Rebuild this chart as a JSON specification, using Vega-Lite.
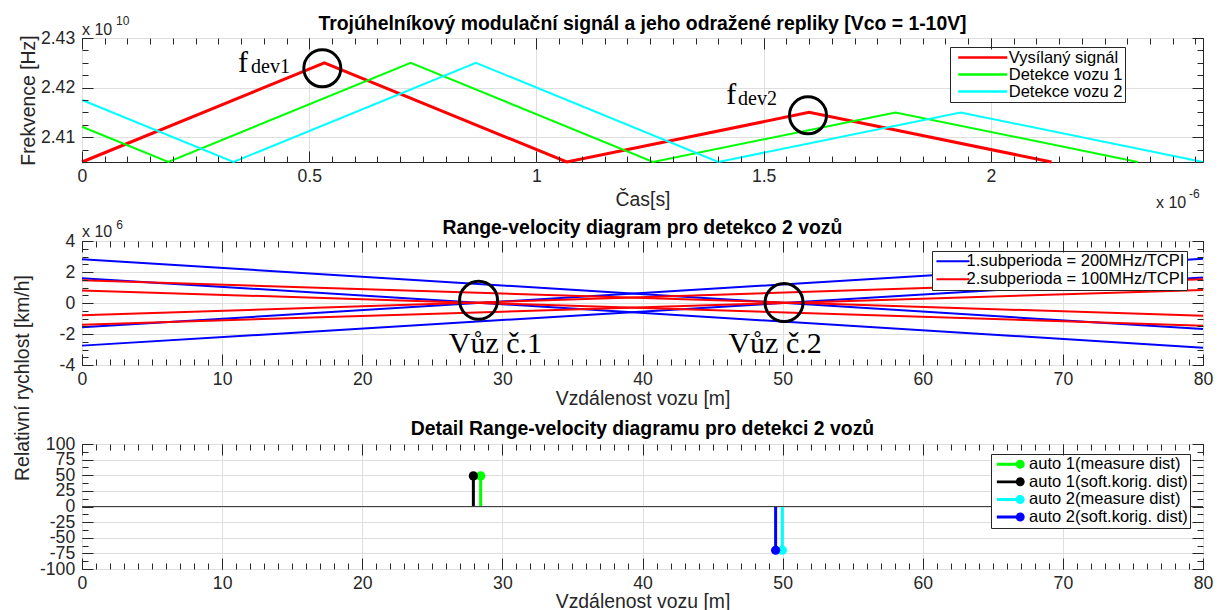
{
"$schema":"https://vega.github.io/schema/vega-lite/v6.json",
"background":"white",
"padding":{"left":11,"top":13,"right":5,"bottom":0},
"autosize":{"type":"pad"},
"spacing":79,
"bounds":"flush",
"config":{
 "view":{"stroke":"#262626","strokeWidth":1},
 "axis":{"labelFont":"Liberation Sans","labelFontSize":17.6,"labelColor":"#262626","titleFont":"Liberation Sans","titleFontSize":19.4,"titleFontWeight":"normal","titleColor":"#262626","domain":false,"tickColor":"#262626","tickWidth":1,"gridColor":"#dfdfdf","gridWidth":1,"labelOverlap":false,"labelFlush":false,"labelBound":false},
 "legend":{"labelFont":"Liberation Sans","labelFontSize":16.5,"labelColor":"#000000","strokeColor":"#262626","fillColor":"#ffffff","padding":2,"rowPadding":0,"labelLimit":500},
 "title":{"font":"Liberation Sans","fontSize":19.4,"fontWeight":"bold","color":"#000000","baseline":"alphabetic","frame":"group","anchor":"middle"}
},
"datasets":{
 "sig":[
  {"series":"Vysílaný signál","t":0,"f":2.405},
  {"series":"Vysílaný signál","t":0.5333,"f":2.425},
  {"series":"Vysílaný signál","t":1.0667,"f":2.405},
  {"series":"Vysílaný signál","t":1.6,"f":2.415},
  {"series":"Vysílaný signál","t":2.1333,"f":2.405},
  {"series":"Detekce vozu 1","t":0,"f":2.4121},
  {"series":"Detekce vozu 1","t":0.19,"f":2.405},
  {"series":"Detekce vozu 1","t":0.7233,"f":2.425},
  {"series":"Detekce vozu 1","t":1.2567,"f":2.405},
  {"series":"Detekce vozu 1","t":1.79,"f":2.415},
  {"series":"Detekce vozu 1","t":2.3233,"f":2.405},
  {"series":"Detekce vozu 2","t":0,"f":2.4175},
  {"series":"Detekce vozu 2","t":0.3333,"f":2.405},
  {"series":"Detekce vozu 2","t":0.8667,"f":2.425},
  {"series":"Detekce vozu 2","t":1.4,"f":2.405},
  {"series":"Detekce vozu 2","t":1.9333,"f":2.415},
  {"series":"Detekce vozu 2","t":2.4667,"f":2.405}
 ],
 "circ1":[{"t":0.5288,"f":2.42389},{"t":1.5975,"f":2.41441}],
 "fmain":[{"t":0.3433,"f":2.42315,"txt":"f"},{"t":1.4176,"f":2.41676,"txt":"f"}],
 "fsub":[{"t":0.3719,"f":2.42294,"txt":"dev1"},{"t":1.4435,"f":2.41643,"txt":"dev2"}],
 "exp1base":[{"t":0,"f":2.4306,"txt":"x 10"},{"t":2.3633,"f":2.39573,"txt":"x 10"}],
 "exp1sup":[{"t":0.0748,"f":2.4326,"txt":"10"},{"t":2.4359,"f":2.39774,"txt":"-6"}],
 "rv":[
  {"sub":"1.subperioda = 200MHz/TCPI","line":"b1","d":0,"v":2.82},
  {"sub":"1.subperioda = 200MHz/TCPI","line":"b1","d":80,"v":-1.68},
  {"sub":"1.subperioda = 200MHz/TCPI","line":"b2","d":0,"v":-2.75},
  {"sub":"1.subperioda = 200MHz/TCPI","line":"b2","d":80,"v":1.65},
  {"sub":"1.subperioda = 200MHz/TCPI","line":"b3","d":0,"v":1.6},
  {"sub":"1.subperioda = 200MHz/TCPI","line":"b3","d":80,"v":-2.88},
  {"sub":"1.subperioda = 200MHz/TCPI","line":"b4","d":0,"v":-1.57},
  {"sub":"1.subperioda = 200MHz/TCPI","line":"b4","d":80,"v":2.86},
  {"sub":"2.subperioda = 100MHz/TCPI","line":"r1","d":0,"v":1.46},
  {"sub":"2.subperioda = 100MHz/TCPI","line":"r1","d":80,"v":-0.82},
  {"sub":"2.subperioda = 100MHz/TCPI","line":"r2","d":0,"v":-1.4},
  {"sub":"2.subperioda = 100MHz/TCPI","line":"r2","d":80,"v":0.84},
  {"sub":"2.subperioda = 100MHz/TCPI","line":"r3","d":0,"v":0.81},
  {"sub":"2.subperioda = 100MHz/TCPI","line":"r3","d":80,"v":-1.46},
  {"sub":"2.subperioda = 100MHz/TCPI","line":"r4","d":0,"v":-0.79},
  {"sub":"2.subperioda = 100MHz/TCPI","line":"r4","d":80,"v":1.54}
 ],
 "circ2":[{"d":28.3,"v":0.17},{"d":50.1,"v":0.03}],
 "cars":[{"d":29.5,"v":-3.226,"txt":"Vůz č.1"},{"d":49.46,"v":-3.226,"txt":"Vůz č.2"}],
 "exp2base":[{"d":0,"v":4.258,"txt":"x 10"}],
 "exp2sup":[{"d":2.45,"v":4.79,"txt":"6"}],
 "stems":[
  {"car":"auto 1(measure dist)","d":28.45,"v":49},
  {"car":"auto 1(soft.korig. dist)","d":27.93,"v":49},
  {"car":"auto 2(measure dist)","d":49.98,"v":-70},
  {"car":"auto 2(soft.korig. dist)","d":49.5,"v":-70}
 ]
},
"resolve":{"scale":{"color":"independent","x":"independent","y":"independent"},"legend":{"color":"independent"}},
"vconcat":[
{
 "width":1121,"height":124,
 "title":{"text":"Trojúhelníkový modulační signál a jeho odražené repliky [Vco = 1-10V]","offset":-19},
 "resolve":{"axis":{"x":"independent","y":"independent"}},
 "layer":[
  {"data":{"name":"sig"},"mark":{"type":"line"},
   "encoding":{
    "x":{"field":"t","type":"quantitative","scale":{"domain":[0,2.4667],"nice":false,"zero":false},
     "axis":{"orient":"bottom","values":[0,0.5,1,1.5,2],"labelExpr":"''+datum.value","ticks":true,"tickSize":0,"labelPadding":5.4,"grid":true,"title":"Čas[s]","titlePadding":5,"zindex":0}},
    "y":{"field":"f","type":"quantitative","scale":{"domain":[2.405,2.43],"nice":false,"zero":false},
     "axis":{"orient":"left","values":[2.41,2.42,2.43],"labelExpr":"''+datum.value","ticks":true,"tickSize":0,"labelPadding":7.3,"grid":true,"title":"Frekvence [Hz]","titleX":-54,"titleY":62,"titleAlign":"center","titleBaseline":"middle","titleAngle":270,"zindex":0}},
    "color":{"field":"series","type":"nominal","scale":{"domain":["Vysílaný signál","Detekce vozu 1","Detekce vozu 2"],"range":["#ff0000","#00ff00","#00ffff"]},
     "legend":{"title":null,"orient":"none","legendX":868,"legendY":9,"symbolType":"M-3.5,0L3.5,0","symbolSize":196,"symbolStrokeWidth":2.5,"symbolOffset":22.25,"labelOffset":17.5}},
    "strokeWidth":{"condition":{"test":"datum.series === 'Vysílaný signál'","value":3},"value":2}
   }},
  {"data":{"name":"sig"},"mark":{"type":"point","opacity":0},
   "encoding":{
    "x":{"field":"t","type":"quantitative","scale":{"domain":[0,2.4667],"nice":false,"zero":false},
     "axis":{"orient":"bottom","values":[0,0.05,0.1,0.15,0.2,0.25,0.3,0.35,0.4,0.45,0.5,0.55,0.6,0.65,0.7,0.75,0.8,0.85,0.9,0.95,1,1.05,1.1,1.15,1.2,1.25,1.3,1.35,1.4,1.45,1.5,1.55,1.6,1.65,1.7,1.75,1.8,1.85,1.9,1.95,2,2.05,2.1,2.15,2.2,2.25,2.3,2.35,2.4,2.45],"labels":false,"grid":false,"ticks":true,"tickSize":6,"offset":-6,"title":null,"zindex":1}},
    "y":{"field":"f","type":"quantitative","scale":{"domain":[2.405,2.43],"nice":false,"zero":false},
     "axis":{"orient":"left","values":[2.405,2.4075,2.41,2.4125,2.415,2.4175,2.42,2.4225,2.425,2.4275,2.43],"labels":false,"grid":false,"ticks":true,"tickSize":6,"offset":-6,"title":null,"zindex":1}}
   }},
  {"data":{"name":"sig"},"mark":{"type":"point","opacity":0},
   "encoding":{
    "x":{"field":"t","type":"quantitative","scale":{"domain":[0,2.4667],"nice":false,"zero":false},
     "axis":{"orient":"top","values":[0,0.05,0.1,0.15,0.2,0.25,0.3,0.35,0.4,0.45,0.5,0.55,0.6,0.65,0.7,0.75,0.8,0.85,0.9,0.95,1,1.05,1.1,1.15,1.2,1.25,1.3,1.35,1.4,1.45,1.5,1.55,1.6,1.65,1.7,1.75,1.8,1.85,1.9,1.95,2,2.05,2.1,2.15,2.2,2.25,2.3,2.35,2.4,2.45],"labels":false,"grid":false,"ticks":true,"tickSize":6,"offset":-6,"title":null,"zindex":1}},
    "y":{"field":"f","type":"quantitative","scale":{"domain":[2.405,2.43],"nice":false,"zero":false},
     "axis":{"orient":"right","values":[2.405,2.4075,2.41,2.4125,2.415,2.4175,2.42,2.4225,2.425,2.4275,2.43],"labels":false,"grid":false,"ticks":true,"tickSize":6,"offset":-6,"title":null,"zindex":1}}
   }},
  {"data":{"name":"sig"},"mark":{"type":"point","opacity":0},
   "encoding":{
    "x":{"field":"t","type":"quantitative","scale":{"domain":[0,2.4667],"nice":false,"zero":false},
     "axis":{"orient":"bottom","values":[0,0.5,1,1.5,2],"labels":false,"grid":false,"ticks":true,"tickSize":11,"offset":-11,"title":null,"zindex":1}},
    "y":{"field":"f","type":"quantitative","scale":{"domain":[2.405,2.43],"nice":false,"zero":false},
     "axis":{"orient":"left","values":[2.41,2.42,2.43],"labels":false,"grid":false,"ticks":true,"tickSize":11,"offset":-11,"title":null,"zindex":1}}
   }},
  {"data":{"name":"sig"},"mark":{"type":"point","opacity":0},
   "encoding":{
    "x":{"field":"t","type":"quantitative","scale":{"domain":[0,2.4667],"nice":false,"zero":false},
     "axis":{"orient":"top","values":[0,0.5,1,1.5,2],"labels":false,"grid":false,"ticks":true,"tickSize":11,"offset":-11,"title":null,"zindex":1}},
    "y":{"field":"f","type":"quantitative","scale":{"domain":[2.405,2.43],"nice":false,"zero":false},
     "axis":{"orient":"right","values":[2.41,2.42,2.43],"labels":false,"grid":false,"ticks":true,"tickSize":11,"offset":-11,"title":null,"zindex":1}}
   }},
  {"data":{"name":"circ1"},"mark":{"type":"point","shape":"circle","filled":false,"size":1369,"strokeWidth":3,"color":"#000000","opacity":1},
   "encoding":{
    "x":{"field":"t","type":"quantitative","scale":{"domain":[0,2.4667],"nice":false,"zero":false},"axis":null},
    "y":{"field":"f","type":"quantitative","scale":{"domain":[2.405,2.43],"nice":false,"zero":false},"axis":null}
   }},
  {"data":{"name":"fmain"},"mark":{"type":"text","font":"Liberation Serif","fontSize":30,"align":"left","baseline":"alphabetic","color":"#000000"},
   "encoding":{
    "x":{"field":"t","type":"quantitative","scale":{"domain":[0,2.4667],"nice":false,"zero":false},"axis":null},
    "y":{"field":"f","type":"quantitative","scale":{"domain":[2.405,2.43],"nice":false,"zero":false},"axis":null},
    "text":{"field":"txt","type":"nominal"}
   }},
  {"data":{"name":"fsub"},"mark":{"type":"text","font":"Liberation Serif","fontSize":20,"align":"left","baseline":"alphabetic","color":"#000000"},
   "encoding":{
    "x":{"field":"t","type":"quantitative","scale":{"domain":[0,2.4667],"nice":false,"zero":false},"axis":null},
    "y":{"field":"f","type":"quantitative","scale":{"domain":[2.405,2.43],"nice":false,"zero":false},"axis":null},
    "text":{"field":"txt","type":"nominal"}
   }},
  {"data":{"name":"exp1base"},"mark":{"type":"text","font":"Liberation Sans","fontSize":16,"align":"left","baseline":"alphabetic","color":"#262626"},
   "encoding":{
    "x":{"field":"t","type":"quantitative","scale":{"domain":[0,2.4667],"nice":false,"zero":false},"axis":null},
    "y":{"field":"f","type":"quantitative","scale":{"domain":[2.405,2.43],"nice":false,"zero":false},"axis":null},
    "text":{"field":"txt","type":"nominal"}
   }},
  {"data":{"name":"exp1sup"},"mark":{"type":"text","font":"Liberation Sans","fontSize":12,"align":"left","baseline":"alphabetic","color":"#262626"},
   "encoding":{
    "x":{"field":"t","type":"quantitative","scale":{"domain":[0,2.4667],"nice":false,"zero":false},"axis":null},
    "y":{"field":"f","type":"quantitative","scale":{"domain":[2.405,2.43],"nice":false,"zero":false},"axis":null},
    "text":{"field":"txt","type":"nominal"}
   }}
 ]
},
{
 "width":1121,"height":124,
 "title":{"text":"Range-velocity diagram pro detekco 2 vozů","offset":-20},
 "resolve":{"axis":{"x":"independent","y":"independent"}},
 "layer":[
  {"data":{"name":"rv"},"mark":{"type":"line","strokeWidth":2},
   "encoding":{
    "x":{"field":"d","type":"quantitative","scale":{"domain":[0,80],"nice":false,"zero":false},
     "axis":{"orient":"bottom","values":[0,10,20,30,40,50,60,70,80],"labelExpr":"''+datum.value","ticks":true,"tickSize":0,"labelPadding":5.4,"grid":true,"title":"Vzdálenost vozu [m]","titlePadding":1.5,"zindex":0}},
    "y":{"field":"v","type":"quantitative","scale":{"domain":[-4,4],"nice":false,"zero":false},
     "axis":{"orient":"left","values":[-4,-2,0,2,4],"labelExpr":"''+datum.value","ticks":true,"tickSize":0,"labelPadding":7.3,"grid":true,"title":"Relativní rychlost [km/h]","titleX":-59.5,"titleY":136.5,"titleAlign":"center","titleBaseline":"middle","titleAngle":270,"zindex":0}},
    "detail":{"field":"line","type":"nominal"},
    "color":{"field":"sub","type":"nominal","scale":{"domain":["1.subperioda = 200MHz/TCPI","2.subperioda = 100MHz/TCPI"],"range":["#0000ff","#ff0000"]},
     "legend":{"title":null,"orient":"none","legendX":850,"legendY":10,"rowPadding":1,"symbolType":"M-2.36,0L2.36,0","symbolSize":196,"symbolStrokeWidth":2,"symbolOffset":10.7,"labelOffset":5.3}}
   }},
  {"data":{"name":"rv"},"mark":{"type":"point","opacity":0},
   "encoding":{
    "x":{"field":"d","type":"quantitative","scale":{"domain":[0,80],"nice":false,"zero":false},
     "axis":{"orient":"bottom","values":[0,1,2,3,4,5,6,7,8,9,10,11,12,13,14,15,16,17,18,19,20,21,22,23,24,25,26,27,28,29,30,31,32,33,34,35,36,37,38,39,40,41,42,43,44,45,46,47,48,49,50,51,52,53,54,55,56,57,58,59,60,61,62,63,64,65,66,67,68,69,70,71,72,73,74,75,76,77,78,79,80],"labels":false,"grid":false,"ticks":true,"tickSize":6,"offset":-6,"title":null,"zindex":1}},
    "y":{"field":"v","type":"quantitative","scale":{"domain":[-4,4],"nice":false,"zero":false},
     "axis":{"orient":"left","values":[-4,-3.5,-3,-2.5,-2,-1.5,-1,-0.5,0,0.5,1,1.5,2,2.5,3,3.5,4],"labels":false,"grid":false,"ticks":true,"tickSize":6,"offset":-6,"title":null,"zindex":1}}
   }},
  {"data":{"name":"rv"},"mark":{"type":"point","opacity":0},
   "encoding":{
    "x":{"field":"d","type":"quantitative","scale":{"domain":[0,80],"nice":false,"zero":false},
     "axis":{"orient":"top","values":[0,1,2,3,4,5,6,7,8,9,10,11,12,13,14,15,16,17,18,19,20,21,22,23,24,25,26,27,28,29,30,31,32,33,34,35,36,37,38,39,40,41,42,43,44,45,46,47,48,49,50,51,52,53,54,55,56,57,58,59,60,61,62,63,64,65,66,67,68,69,70,71,72,73,74,75,76,77,78,79,80],"labels":false,"grid":false,"ticks":true,"tickSize":6,"offset":-6,"title":null,"zindex":1}},
    "y":{"field":"v","type":"quantitative","scale":{"domain":[-4,4],"nice":false,"zero":false},
     "axis":{"orient":"right","values":[-4,-3.5,-3,-2.5,-2,-1.5,-1,-0.5,0,0.5,1,1.5,2,2.5,3,3.5,4],"labels":false,"grid":false,"ticks":true,"tickSize":6,"offset":-6,"title":null,"zindex":1}}
   }},
  {"data":{"name":"rv"},"mark":{"type":"point","opacity":0},
   "encoding":{
    "x":{"field":"d","type":"quantitative","scale":{"domain":[0,80],"nice":false,"zero":false},
     "axis":{"orient":"bottom","values":[0,10,20,30,40,50,60,70,80],"labels":false,"grid":false,"ticks":true,"tickSize":11,"offset":-11,"title":null,"zindex":1}},
    "y":{"field":"v","type":"quantitative","scale":{"domain":[-4,4],"nice":false,"zero":false},
     "axis":{"orient":"left","values":[-4,-2,0,2,4],"labels":false,"grid":false,"ticks":true,"tickSize":11,"offset":-11,"title":null,"zindex":1}}
   }},
  {"data":{"name":"rv"},"mark":{"type":"point","opacity":0},
   "encoding":{
    "x":{"field":"d","type":"quantitative","scale":{"domain":[0,80],"nice":false,"zero":false},
     "axis":{"orient":"top","values":[0,10,20,30,40,50,60,70,80],"labels":false,"grid":false,"ticks":true,"tickSize":11,"offset":-11,"title":null,"zindex":1}},
    "y":{"field":"v","type":"quantitative","scale":{"domain":[-4,4],"nice":false,"zero":false},
     "axis":{"orient":"right","values":[-4,-2,0,2,4],"labels":false,"grid":false,"ticks":true,"tickSize":11,"offset":-11,"title":null,"zindex":1}}
   }},
  {"data":{"name":"circ2"},"mark":{"type":"point","shape":"circle","filled":false,"size":1444,"strokeWidth":3,"color":"#000000","opacity":1},
   "encoding":{
    "x":{"field":"d","type":"quantitative","scale":{"domain":[0,80],"nice":false,"zero":false},"axis":null},
    "y":{"field":"v","type":"quantitative","scale":{"domain":[-4,4],"nice":false,"zero":false},"axis":null}
   }},
  {"data":{"name":"cars"},"mark":{"type":"text","font":"Liberation Serif","fontSize":30,"align":"center","baseline":"alphabetic","color":"#000000"},
   "encoding":{
    "x":{"field":"d","type":"quantitative","scale":{"domain":[0,80],"nice":false,"zero":false},"axis":null},
    "y":{"field":"v","type":"quantitative","scale":{"domain":[-4,4],"nice":false,"zero":false},"axis":null},
    "text":{"field":"txt","type":"nominal"}
   }},
  {"data":{"name":"exp2base"},"mark":{"type":"text","font":"Liberation Sans","fontSize":16,"align":"left","baseline":"alphabetic","color":"#262626"},
   "encoding":{
    "x":{"field":"d","type":"quantitative","scale":{"domain":[0,80],"nice":false,"zero":false},"axis":null},
    "y":{"field":"v","type":"quantitative","scale":{"domain":[-4,4],"nice":false,"zero":false},"axis":null},
    "text":{"field":"txt","type":"nominal"}
   }},
  {"data":{"name":"exp2sup"},"mark":{"type":"text","font":"Liberation Sans","fontSize":12,"align":"left","baseline":"alphabetic","color":"#262626"},
   "encoding":{
    "x":{"field":"d","type":"quantitative","scale":{"domain":[0,80],"nice":false,"zero":false},"axis":null},
    "y":{"field":"v","type":"quantitative","scale":{"domain":[-4,4],"nice":false,"zero":false},"axis":null},
    "text":{"field":"txt","type":"nominal"}
   }}
 ]
},
{
 "width":1121,"height":125,
 "title":{"text":"Detail Range-velocity diagramu pro detekci 2 vozů","offset":-4},
 "resolve":{"axis":{"x":"independent","y":"independent"}},
 "layer":[
  {"data":{"name":"stems"},"mark":{"type":"rule","strokeWidth":3},
   "encoding":{
    "x":{"field":"d","type":"quantitative","scale":{"domain":[0,80],"nice":false,"zero":false},
     "axis":{"orient":"bottom","values":[0,10,20,30,40,50,60,70,80],"labelExpr":"''+datum.value","ticks":true,"tickSize":0,"labelPadding":5.4,"grid":true,"title":"Vzdálenost vozu [m]","titlePadding":0.5,"zindex":0}},
    "y":{"field":"v","type":"quantitative","scale":{"domain":[-100,100],"nice":false,"zero":false},
     "axis":{"orient":"left","values":[-100,-75,-50,-25,0,25,50,75,100],"labelExpr":"''+datum.value","ticks":true,"tickSize":0,"labelPadding":7.3,"grid":true,"title":null,"zindex":0}},
    "y2":{"datum":0},
    "color":{"field":"car","type":"nominal","scale":{"domain":["auto 1(measure dist)","auto 1(soft.korig. dist)","auto 2(measure dist)","auto 2(soft.korig. dist)"],"range":["#00ff00","#000000","#00ffff","#0000ff"]},
     "legend":{"title":null,"orient":"none","legendX":909,"legendY":10,"rowPadding":0.6,"symbolType":"M-2,-0.21L1.34,-0.21L1.34,0.21L-2,0.21Z M0.7,0A0.64,0.64 0 1 1 1.98,0A0.64,0.64 0 1 1 0.7,0Z","symbolSize":196,"symbolStrokeWidth":0,"symbolOffset":9.6,"labelOffset":10}}
   }},
  {"data":{"values":[{}]},"mark":{"type":"rule","color":"#404040","strokeWidth":1},
   "encoding":{
    "y":{"datum":0,"type":"quantitative","scale":{"domain":[-100,100],"nice":false,"zero":false},"axis":null}
   }},
  {"data":{"name":"stems"},"mark":{"type":"point","shape":"circle","filled":true,"size":85,"opacity":1},
   "encoding":{
    "x":{"field":"d","type":"quantitative","scale":{"domain":[0,80],"nice":false,"zero":false},"axis":null},
    "y":{"field":"v","type":"quantitative","scale":{"domain":[-100,100],"nice":false,"zero":false},"axis":null},
    "color":{"field":"car","type":"nominal","scale":{"domain":["auto 1(measure dist)","auto 1(soft.korig. dist)","auto 2(measure dist)","auto 2(soft.korig. dist)"],"range":["#00ff00","#000000","#00ffff","#0000ff"]},
     "legend":{"title":null,"orient":"none","legendX":909,"legendY":10,"rowPadding":0.6,"symbolType":"M-2,-0.21L1.34,-0.21L1.34,0.21L-2,0.21Z M0.7,0A0.64,0.64 0 1 1 1.98,0A0.64,0.64 0 1 1 0.7,0Z","symbolSize":196,"symbolStrokeWidth":0,"symbolOffset":9.6,"labelOffset":10}}
   }},
  {"data":{"name":"stems"},"mark":{"type":"point","opacity":0},
   "encoding":{
    "x":{"field":"d","type":"quantitative","scale":{"domain":[0,80],"nice":false,"zero":false},
     "axis":{"orient":"bottom","values":[0,1,2,3,4,5,6,7,8,9,10,11,12,13,14,15,16,17,18,19,20,21,22,23,24,25,26,27,28,29,30,31,32,33,34,35,36,37,38,39,40,41,42,43,44,45,46,47,48,49,50,51,52,53,54,55,56,57,58,59,60,61,62,63,64,65,66,67,68,69,70,71,72,73,74,75,76,77,78,79,80],"labels":false,"grid":false,"ticks":true,"tickSize":6,"offset":-6,"title":null,"zindex":1}},
    "y":{"field":"v","type":"quantitative","scale":{"domain":[-100,100],"nice":false,"zero":false},
     "axis":{"orient":"left","values":[-100,-87.5,-75,-62.5,-50,-37.5,-25,-12.5,0,12.5,25,37.5,50,62.5,75,87.5,100],"labels":false,"grid":false,"ticks":true,"tickSize":6,"offset":-6,"title":null,"zindex":1}}
   }},
  {"data":{"name":"stems"},"mark":{"type":"point","opacity":0},
   "encoding":{
    "x":{"field":"d","type":"quantitative","scale":{"domain":[0,80],"nice":false,"zero":false},
     "axis":{"orient":"top","values":[0,1,2,3,4,5,6,7,8,9,10,11,12,13,14,15,16,17,18,19,20,21,22,23,24,25,26,27,28,29,30,31,32,33,34,35,36,37,38,39,40,41,42,43,44,45,46,47,48,49,50,51,52,53,54,55,56,57,58,59,60,61,62,63,64,65,66,67,68,69,70,71,72,73,74,75,76,77,78,79,80],"labels":false,"grid":false,"ticks":true,"tickSize":6,"offset":-6,"title":null,"zindex":1}},
    "y":{"field":"v","type":"quantitative","scale":{"domain":[-100,100],"nice":false,"zero":false},
     "axis":{"orient":"right","values":[-100,-87.5,-75,-62.5,-50,-37.5,-25,-12.5,0,12.5,25,37.5,50,62.5,75,87.5,100],"labels":false,"grid":false,"ticks":true,"tickSize":6,"offset":-6,"title":null,"zindex":1}}
   }},
  {"data":{"name":"stems"},"mark":{"type":"point","opacity":0},
   "encoding":{
    "x":{"field":"d","type":"quantitative","scale":{"domain":[0,80],"nice":false,"zero":false},
     "axis":{"orient":"bottom","values":[0,10,20,30,40,50,60,70,80],"labels":false,"grid":false,"ticks":true,"tickSize":11,"offset":-11,"title":null,"zindex":1}},
    "y":{"field":"v","type":"quantitative","scale":{"domain":[-100,100],"nice":false,"zero":false},
     "axis":{"orient":"left","values":[-100,-75,-50,-25,0,25,50,75,100],"labels":false,"grid":false,"ticks":true,"tickSize":11,"offset":-11,"title":null,"zindex":1}}
   }},
  {"data":{"name":"stems"},"mark":{"type":"point","opacity":0},
   "encoding":{
    "x":{"field":"d","type":"quantitative","scale":{"domain":[0,80],"nice":false,"zero":false},
     "axis":{"orient":"top","values":[0,10,20,30,40,50,60,70,80],"labels":false,"grid":false,"ticks":true,"tickSize":11,"offset":-11,"title":null,"zindex":1}},
    "y":{"field":"v","type":"quantitative","scale":{"domain":[-100,100],"nice":false,"zero":false},
     "axis":{"orient":"right","values":[-100,-75,-50,-25,0,25,50,75,100],"labels":false,"grid":false,"ticks":true,"tickSize":11,"offset":-11,"title":null,"zindex":1}}
   }}
 ]
}
]
}
